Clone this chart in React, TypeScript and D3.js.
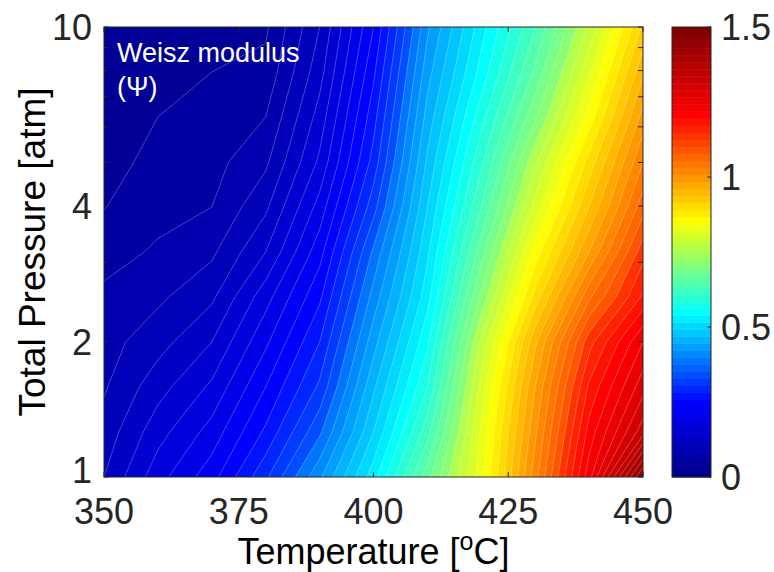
import React from 'react';
import * as d3 from 'd3';

// ---------- data ----------
const temperatures = [350, 360, 370, 380, 390, 400, 410, 420, 430, 440, 450];
const pressures = [1, 1.259, 1.585, 1.995, 2.512, 3.162, 3.981, 5.012, 6.31, 7.943, 10];

// Weisz modulus per pressure row (bottom P=1 -> top P=10), values over temperatures
const psiP1_000 = [0.125, 0.19, 0.24, 0.32, 0.42, 0.54, 0.69, 0.84, 1.04, 1.24, 1.48];
const psiP1_259 = [0.11, 0.165, 0.21, 0.28, 0.37, 0.5, 0.64, 0.83, 1.02, 1.21, 1.34];
const psiP1_585 = [0.097, 0.14, 0.18, 0.25, 0.33, 0.47, 0.6, 0.81, 1.0, 1.18, 1.29];
const psiP1_995 = [0.09, 0.115, 0.15, 0.22, 0.3, 0.44, 0.57, 0.78, 0.97, 1.14, 1.25];
const psiP2_512 = [0.08, 0.095, 0.12, 0.19, 0.27, 0.41, 0.54, 0.73, 0.91, 1.07, 1.18];
const psiP3_162 = [0.066, 0.078, 0.095, 0.15, 0.24, 0.38, 0.52, 0.69, 0.86, 1.0, 1.14];
const psiP3_981 = [0.049, 0.068, 0.075, 0.12, 0.21, 0.34, 0.5, 0.65, 0.81, 0.95, 1.09];
const psiP5_012 = [0.04, 0.058, 0.066, 0.095, 0.18, 0.31, 0.48, 0.62, 0.77, 0.91, 1.05];
const psiP6_310 = [0.035, 0.05, 0.058, 0.075, 0.16, 0.29, 0.46, 0.59, 0.72, 0.86, 1.01];
const psiP7_943 = [0.032, 0.04, 0.05, 0.057, 0.14, 0.27, 0.44, 0.56, 0.68, 0.82, 0.97];
const psiP10_00 = [0.03, 0.035, 0.045, 0.046, 0.125, 0.25, 0.42, 0.54, 0.65, 0.78, 0.93];

const psiRows = [
  psiP1_000, psiP1_259, psiP1_585, psiP1_995, psiP2_512, psiP3_162,
  psiP3_981, psiP5_012, psiP6_310, psiP7_943, psiP10_00,
];

const xTicks = [350, 375, 400, 425, 450];
const yMinorTicks = [1, 2, 3, 4, 5, 6, 7, 8, 9, 10];
const yTickLabels = [1, 2, 4, 10];
const cbTicks = [0, 0.5, 1, 1.5];
const cbTickLabels = ['0', '0.5', '1', '1.5'];
const levelStep = 0.025;
const cMin = 0;
const cMax = 1.5;

// colormap anchors (jet-like)
const cmapStops = [0, 0.24, 0.545, 0.855, 1.215, 1.5];
const cmapColors = ['#00008b', '#0000ff', '#00ffff', '#ffff00', '#ff0000', '#800000'];
const nColors = 64;

// ---------- colormap ----------
const cmapScale = d3
  .scaleLinear<string>()
  .domain(cmapStops)
  .range(cmapColors)
  .interpolate(d3.interpolateRgb);
const CMAP = d3.range(nColors).map((i) => cmapScale(cMin + (i / (nColors - 1)) * (cMax - cMin)));
function colorFor(v: number) {
  const idx = Math.max(
    0,
    Math.min(nColors - 1, Math.floor(((v - cMin) / (cMax - cMin)) * nColors + 1e-9))
  );
  return CMAP[idx];
}

// ---------- layout ----------
const W = 774;
const H = 572;
const L = 104, R = 643, T = 27, B = 477;
const CBL = 672, CBR = 711;
const FONT = "'Liberation Sans', Arial, Helvetica, sans-serif";
const AX = '#262626';

export default function App() {
  const x = d3.scaleLinear().domain([350, 450]).range([L, R]);
  const y = d3.scaleLog().domain([1, 10]).range([B, T]);
  const cb = d3.scaleLinear().domain([cMin, cMax]).range([B, T]);

  const nx = temperatures.length;
  const ny = pressures.length;
  const values: number[] = [];
  for (let j = 0; j < ny; j++) {
    const row = psiRows[ny - 1 - j];
    for (let i = 0; i < nx; i++) values.push(row[i]);
  }
  const levels = d3.range(1, Math.round(cMax / levelStep)).map((i) => i * levelStep);
  const contours = d3.contours().size([nx, ny]).thresholds(levels)(values);

  const tIdx = d3.scaleLinear().domain([0, nx - 1]).range([temperatures[0], temperatures[nx - 1]]);
  const pIdx = d3
    .scaleLinear()
    .domain([0, ny - 1])
    .range([Math.log10(pressures[ny - 1]), Math.log10(pressures[0])]);
  const proj = d3.geoTransform({
    point(px: number, py: number) {
      const tv = tIdx(px - 0.5);
      const pv = Math.pow(10, pIdx(py - 0.5));
      (this as any).stream.point(x(tv), y(pv));
    },
  });
  const path = d3.geoPath(proj as any);

  const minV = d3.min(values) as number;
  const tick = 5;

  return (
    <svg
      width={W}
      height={H}
      style={{ position: 'absolute', left: 0, top: 0, background: '#fff' }}
      fontFamily={FONT}
    >
      <defs>
        <clipPath id="plotclip">
          <rect x={L} y={T} width={R - L} height={B - T} />
        </clipPath>
      </defs>
      <g clipPath="url(#plotclip)">
        <rect x={L} y={T} width={R - L} height={B - T} fill={colorFor(minV)} />
        {contours.map((c, i) => (
          <path key={'f' + i} d={path(c as any) || ''} fill={colorFor(c.value)} stroke="none" />
        ))}
        {contours.map((c, i) => (
          <path
            key={'s' + i}
            d={path(c as any) || ''}
            fill="none"
            stroke="rgba(255,255,255,0.45)"
            strokeWidth={0.6}
          />
        ))}
      </g>
      {/* axes box */}
      <rect x={L} y={T} width={R - L} height={B - T} fill="none" stroke={AX} strokeWidth={1} />
      {xTicks.map((t) => (
        <g key={'xt' + t}>
          <line x1={x(t)} x2={x(t)} y1={B} y2={B - tick} stroke={AX} />
          <line x1={x(t)} x2={x(t)} y1={T} y2={T + tick} stroke={AX} />
          <text x={x(t)} y={523.5} textAnchor="middle" fontSize={36} fill={AX}>
            {t}
          </text>
        </g>
      ))}
      {yMinorTicks.map((p) => (
        <g key={'yt' + p}>
          <line x1={L} x2={L + tick} y1={y(p)} y2={y(p)} stroke={AX} />
          <line x1={R} x2={R - tick} y1={y(p)} y2={y(p)} stroke={AX} />
        </g>
      ))}
      {yTickLabels.map((p) => (
        <text
          key={'yl' + p}
          x={92}
          y={y(p) + (p === 1 ? 6 : 13)}
          textAnchor="end"
          fontSize={36}
          fill={AX}
        >
          {p}
        </text>
      ))}
      <text x={(L + R) / 2} y={564} textAnchor="middle" fontSize={36} fill="#000">
        Temperature [
        <tspan fontSize={25} dy={-14}>
          o
        </tspan>
        <tspan dy={14}>C]</tspan>
      </text>
      <text
        transform={`translate(45,${(T + B) / 2}) rotate(-90)`}
        textAnchor="middle"
        fontSize={37}
        fill="#000"
      >
        Total Pressure [atm]
      </text>
      <text x={117} y={62} fontSize={27} fill="#fff">
        Weisz modulus
      </text>
      <text x={117} y={96} fontSize={27} fill="#fff">
        (Ψ)
      </text>
      {/* colorbar */}
      {CMAP.map((col, i) => {
        const v0 = cMin + (i / nColors) * (cMax - cMin);
        const v1 = cMin + ((i + 1) / nColors) * (cMax - cMin);
        return (
          <rect
            key={'cb' + i}
            x={CBL}
            width={CBR - CBL}
            y={cb(v1)}
            height={cb(v0) - cb(v1) + 0.5}
            fill={col}
          />
        );
      })}
      <rect x={CBL} y={T} width={CBR - CBL} height={B - T} fill="none" stroke={AX} strokeWidth={1} />
      {cbTicks.map((v, i) => (
        <g key={'cbt' + i}>
          <line x1={CBR} x2={CBR - 4} y1={cb(v)} y2={cb(v)} stroke={AX} />
          <text x={721} y={cb(v) + 13} fontSize={36} fill={AX}>
            {cbTickLabels[i]}
          </text>
        </g>
      ))}
    </svg>
  );
}
